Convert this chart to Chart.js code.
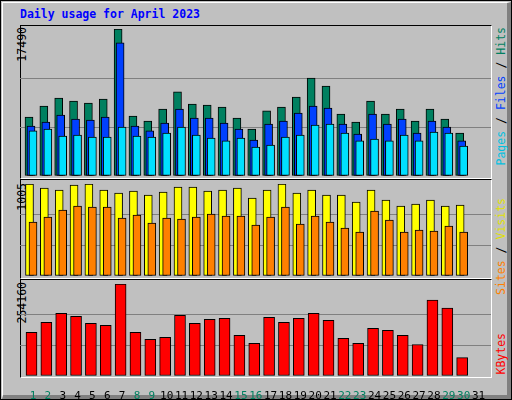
<!DOCTYPE html>
<html><head><meta charset="utf-8">
<script src="https://cdn.jsdelivr.net/npm/chart.js@4/dist/chart.umd.min.js"></script>
<style>
body{margin:0;background:#fff}
#w{position:absolute;left:0;top:0;width:510px;height:398px;background:#c0c0c0;border:1px solid #000}
#in{position:absolute;left:1px;top:1px;width:504px;height:392px;border-top:1px solid #fff;border-left:1px solid #fff;border-right:4px solid #808080;border-bottom:4px solid #808080}
.t{position:absolute;font-family:"DejaVu Sans Mono",monospace}
.v{position:absolute;writing-mode:vertical-rl;transform:rotate(180deg);font-family:"DejaVu Sans Mono",monospace;font-size:11.5px;white-space:nowrap;line-height:12px}
canvas{position:absolute}
.frame{position:absolute;left:20px;width:470px;border-top:1px solid #000;border-left:1px solid #000;border-right:1px solid #fff;border-bottom:1px solid #fff;pointer-events:none}
</style></head><body>
<div id="w"><div id="in"></div></div>
<div class="t" style="left:20px;top:7px;font-size:11.5px;font-weight:bold;color:#0000ff">Daily usage for April 2023</div>
<div class="frame" style="top:25px;height:152px"></div>
<div class="frame" style="top:179px;height:98px"></div>
<div class="frame" style="top:279px;height:97px"></div>
<div class="v" style="left:16px;top:27px;color:#000">17490</div>
<div class="v" style="left:16px;top:183px;color:#000">1005</div>
<div class="v" style="left:16px;top:282px;color:#000">254160</div>
<div class="v" style="left:495px;top:27px"><span style="color:#00c0e0">Pages</span><span style="color:#000"> / </span><span style="color:#0040ff">Files</span><span style="color:#000"> / </span><span style="color:#008060">Hits</span></div>
<div class="v" style="left:495px;top:198px"><span style="color:#ff8000">Sites</span><span style="color:#000"> / </span><span style="color:#e0e000">Visits</span></div>
<div class="v" style="left:495px;top:333px;color:#ff0000">KBytes</div>
<canvas id="c1" width="471" height="147" style="left:20px;top:29px"></canvas>
<canvas id="c2" width="471" height="92" style="left:20px;top:184px"></canvas>
<canvas id="c3" width="471" height="116" style="left:20px;top:284px"></canvas>
<script>
const days = Array.from({length:31},(_,i)=>i+1);
const weekend = [1,2,8,9,15,16,22,23,29,30];
const hits  = [7020,8330,9280,8920,8690,9160,17490,7140,6540,7970,10000,8570,8450,8210,6900,5590,7740,8210,9400,11660,10710,7380,6430,8920,7380,7970,6540,7970,6780,5120];
const files = [5950,6430,7260,6780,6660,7020,15830,5950,5360,6310,7970,6900,6900,6310,5590,4280,6190,6540,7500,8330,8090,6190,5000,7380,6190,6780,5120,6540,5830,4170];
const pages = [5360,5590,4760,4880,4640,4640,5830,4760,4640,5120,5830,4880,4520,4170,4520,3450,3690,4640,4880,6070,6190,5120,4170,4400,4170,4880,4170,5240,5120,3570];
const visits= [1005,961,939,994,1005,939,906,928,885,917,972,972,928,939,961,852,939,1005,906,939,885,885,808,939,830,764,786,830,764,775];
const sites = [590,644,721,764,753,753,633,666,579,633,622,644,677,655,655,557,644,753,568,655,590,524,480,710,612,480,502,491,546,480];
const kbytes= [120550,148390,173450,165090,145610,140040,254160,120550,101060,106630,167880,145610,156750,159530,112200,89920,162310,148390,159530,173450,153960,103850,89920,131690,126120,112200,87140,209640,187370,50950];
const YMAX1=17490, YMAX2=1005, YMAX3=254160;

const PX=14.85, C0=31.5, XMIN=1-(C0-20)/PX, XMAX=XMIN+471/PX;
function pts(arr,offPx){return arr.map((v,i)=>({x:days[i]+offPx/PX,y:v}));}
function ds(arr,off,color,w){return {data:pts(arr,off),backgroundColor:color,borderColor:'#000',borderWidth:1,barThickness:w,borderSkipped:false};}
function yAxis(max){return {min:0,max:max,display:true,afterFit:s=>{s.width=0;},border:{display:false},
  ticks:{display:false,stepSize:max/3},grid:{drawTicks:false,color:c=>(c.tick&&c.tick.value>0&&c.tick.value<max-1)?'#808080':'rgba(0,0,0,0)',lineWidth:1}};}
function xAxis(show){return {type:'linear',min:XMIN,max:XMAX,display:show,offset:false,grid:{display:false},border:{display:false},
  afterFit:s=>{s.height=show?24:0;},
  afterBuildTicks:s=>{s.ticks=days.map(d=>({value:d}));},
  ticks:{display:show,autoSkip:false,maxRotation:0,padding:6,labelOffset:1.5,font:{family:'DejaVu Sans Mono',size:11},
    callback:v=>String(v),color:c=>weekend.includes(c.tick.value)?'#008060':'#000'}};}
function mk(id,datasets,max,showX){
  new Chart(document.getElementById(id),{type:'bar',data:{datasets},
    options:{responsive:false,animation:false,devicePixelRatio:1,layout:{padding:0},
      datasets:{bar:{grouped:false}},
      plugins:{legend:{display:false},tooltip:{enabled:false}},
      scales:{x:xAxis(showX),y:yAxis(max)}}});
}
mk('c1',[ds(pages,1.5,'#00e0ff',8),ds(files,-0.5,'#0040ff',8),ds(hits,-2.5,'#008060',8)],YMAX1,false);
mk('c2',[ds(sites,1.5,'#ff8000',8),ds(visits,-2,'#ffff00',8)],YMAX2,false);
mk('c3',[ds(kbytes,0,'#ff0000',11)],YMAX3,true);
</script></body></html>
